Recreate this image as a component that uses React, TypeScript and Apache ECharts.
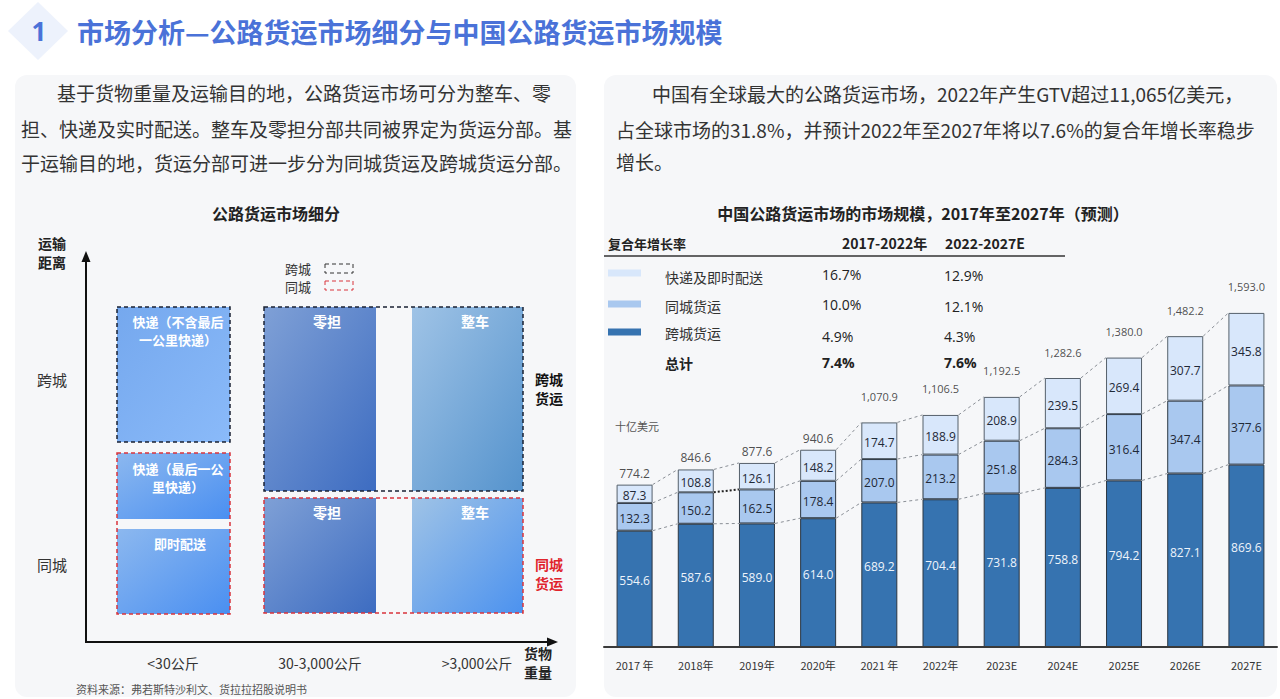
import React, { useEffect, useRef } from "react";
import * as echarts from "echarts";

// Market size, China road freight (USD bn)
const years = ["2017 年", "2018年", "2019年", "2020年", "2021 年", "2022年", "2023E", "2024E", "2025E", "2026E", "2027E"];
const crossCity = [554.6, 587.6, 589.0, 614.0, 689.2, 704.4, 731.8, 758.8, 794.2, 827.1, 869.6];
const intraCity = [132.3, 150.2, 162.5, 178.4, 207.0, 213.2, 251.8, 284.3, 316.4, 347.4, 377.6];
const express = [87.3, 108.8, 126.1, 148.2, 174.7, 188.9, 208.9, 239.5, 269.4, 307.7, 345.8];

// CAGR table
const cagrSegments = ["快递及即时配送", "同城货运", "跨城货运"];
const cagr1722 = ["16.7%", "10.0%", "4.9%"];
const cagr2227 = ["12.9%", "12.1%", "4.3%"];
const cagrTotal = ["7.4%", "7.6%"];

// Intro paragraphs
const leftParagraph = [
  "基于货物重量及运输目的地，公路货运市场可分为整车、零",
  "担、快递及实时配送。整车及零担分部共同被界定为货运分部。基",
  "于运输目的地，货运分部可进一步分为同城货运及跨城货运分部。",
];
const rightParagraph = [
  "中国有全球最大的公路货运市场，2022年产生GTV超过11,065亿美元，",
  "占全球市场的31.8%，并预计2022年至2027年将以7.6%的复合年增长率稳步",
  "增长。",
];
const weightLabels = ["<30公斤", "30-3,000公斤", ">3,000公斤"];

const CJK = '"Noto Sans CJK SC", "Noto Sans", sans-serif';
const NUM = '"Open Sans", "Noto Sans CJK SC", sans-serif';

const C_DARK = "#3673b0";
const C_MID = "#a9c8ef";
const C_LIGHT = "#d8e7fb";

const totals = crossCity.map((v, i) => Math.round((v + intraCity[i] + express[i]) * 10) / 10);
const fmt = (v: number) =>
  v.toLocaleString("en-US", { minimumFractionDigits: 1, maximumFractionDigits: 1 });

function txt(x: number, y: number, text: string, o: any = {}) {
  const style: any = {
    x,
    y,
    text,
    fill: o.fill || "#333",
    fontSize: o.size || 14,
    fontWeight: o.bold ? "bold" : "normal",
    fontFamily: o.family || CJK,
    textAlign: o.align || "left",
    align: o.align || "left",
    textVerticalAlign: "middle",
    verticalAlign: "middle",
  };
  if (o.lineHeight) style.lineHeight = o.lineHeight;
  return { type: "text", z: 10, style };
}

function grad(c0: string, c1: string, x2 = 1, y2 = 1) {
  return { type: "linear", x: 0, y: 0, x2, y2, colorStops: [{ offset: 0, color: c0 }, { offset: 1, color: c1 }] };
}

function fillRect(x: number, y: number, w: number, h: number, fill: any) {
  return { type: "rect", z: 5, shape: { x, y, width: w, height: h }, style: { fill } };
}

function dashRect(x: number, y: number, w: number, h: number, stroke: string, lw = 1.5) {
  return {
    type: "rect",
    z: 6,
    shape: { x, y, width: w, height: h },
    style: { fill: "none", stroke, lineWidth: lw, lineDash: [4, 3] },
  };
}

function buildGraphics() {
  const g: any[] = [];
  // header
  g.push({ type: "polygon", z: 1, shape: { points: [[38, 2], [68, 31], [38, 60], [8, 31]] }, style: { fill: "#edf2fc" } });
  g.push(txt(39, 31, "1", { size: 26, bold: true, fill: "#4a72d8", align: "center", family: NUM }));
  g.push(txt(77, 31, "市场分析—公路货运市场细分与中国公路货运市场规模", { size: 27, bold: true, fill: "#4a72d8" }));

  // panels
  g.push({ type: "rect", z: 0, shape: { x: 15, y: 75, width: 561, height: 622, r: 12 }, style: { fill: "#f6f7f9" } });
  g.push({ type: "rect", z: 0, shape: { x: 604, y: 75, width: 673, height: 622, r: 12 }, style: { fill: "#f6f7f9" } });

  // paragraphs
  const lx = [57, 21, 21];
  const ly = [92, 128, 162];
  leftParagraph.forEach((s, i) => g.push(txt(lx[i], ly[i], s, { size: 19, fill: "#333" })));
  const rx = [652, 616, 616];
  const ry = [93, 129, 161];
  rightParagraph.forEach((s, i) => g.push(txt(rx[i], ry[i], s, { size: 19, fill: "#333" })));

  // ---- segmentation diagram ----
  g.push(txt(276, 213, "公路货运市场细分", { size: 16, bold: true, fill: "#222", align: "center" }));
  g.push(txt(52, 252, "运输\n距离", { size: 14, bold: true, fill: "#222", align: "center", lineHeight: 19 }));
  g.push({ type: "line", z: 6, shape: { x1: 86, y1: 642, x2: 86, y2: 260 }, style: { stroke: "#111", lineWidth: 2 } });
  g.push({ type: "polygon", z: 6, shape: { points: [[86, 251], [81.5, 262], [90.5, 262]] }, style: { fill: "#111" } });
  g.push({ type: "line", z: 6, shape: { x1: 85, y1: 642, x2: 549, y2: 642 }, style: { stroke: "#111", lineWidth: 2 } });
  g.push({ type: "polygon", z: 6, shape: { points: [[558, 642], [547, 637.5], [547, 646.5]] }, style: { fill: "#111" } });
  g.push(txt(52, 379, "跨城", { size: 15, fill: "#333", align: "center" }));
  g.push(txt(52, 564, "同城", { size: 15, fill: "#333", align: "center" }));

  // legend
  g.push(txt(298, 268, "跨城", { size: 13, fill: "#333", align: "center" }));
  g.push(dashRect(325, 264, 28, 9, "#333", 1));
  g.push(txt(298, 286, "同城", { size: 13, fill: "#333", align: "center" }));
  g.push(dashRect(325, 281, 28, 9, "#d9343c", 1));

  // express column
  g.push(fillRect(117, 307, 113, 135, grad("#75a8ee", "#8abaf9")));
  g.push(dashRect(117, 307, 113, 135, "#1a2233"));
  g.push(fillRect(117, 453, 113, 66, grad("#8cb8ef", "#4a8ff1")));
  g.push(fillRect(117, 529, 113, 85, grad("#8cb8ef", "#4a8ff1")));
  g.push(dashRect(117, 453, 113, 161, "#d9343c"));
  const white = { size: 13, bold: true, fill: "#ffffff", align: "center", lineHeight: 18 };
  g.push(txt(178, 330, "快递（不含最后\n一公里快递）", white));
  g.push(txt(178, 477, "快递（最后一公\n里快递）", white));
  g.push(txt(180, 543, "即时配送", white));

  // LTL / FTL blocks
  g.push(fillRect(264, 307, 112, 184, grad("#7fa0d6", "#3d6cc1")));
  g.push(fillRect(412, 307, 111, 184, grad("#9fc3e6", "#5593cd")));
  g.push(dashRect(264, 307, 259, 184, "#1a2233"));
  g.push(fillRect(264, 498, 112, 115, grad("#7fa0d6", "#3d6cc1")));
  g.push(fillRect(412, 498, 111, 115, grad("#9fc3e6", "#4c92ef")));
  g.push(dashRect(264, 498, 259, 115, "#d9343c"));
  const white14 = { size: 14, bold: true, fill: "#ffffff", align: "center" };
  g.push(txt(327, 321, "零担", white14));
  g.push(txt(475, 321, "整车", white14));
  g.push(txt(327, 512, "零担", white14));
  g.push(txt(475, 512, "整车", white14));

  g.push(txt(549, 388, "跨城\n货运", { size: 14, bold: true, fill: "#111", align: "center", lineHeight: 19 }));
  g.push(txt(549, 573, "同城\n货运", { size: 14, bold: true, fill: "#e0242c", align: "center", lineHeight: 19 }));

  const wx = [173, 320, 477];
  weightLabels.forEach((s, i) => g.push(txt(wx[i], 663, s, { size: 14, fill: "#333", align: "center" })));
  g.push(txt(538, 662, "货物\n重量", { size: 14, bold: true, fill: "#222", align: "center", lineHeight: 19 }));
  g.push(txt(76, 689, "资料来源：弗若斯特沙利文、货拉拉招股说明书", { size: 11, fill: "#555" }));

  // ---- market size chart header & CAGR table ----
  g.push(txt(923, 213, "中国公路货运市场的市场规模，2017年至2027年（预测）", { size: 16, bold: true, fill: "#222", align: "center" }));
  g.push(txt(608, 243, "复合年增长率", { size: 13, bold: true, fill: "#222" }));
  g.push(txt(842, 243, "2017-2022年", { size: 14, bold: true, fill: "#222" }));
  g.push(txt(945, 243, "2022-2027E", { size: 14, bold: true, fill: "#222" }));
  g.push({ type: "line", z: 6, shape: { x1: 604, y1: 256, x2: 1065, y2: 256 }, style: { stroke: "#333", lineWidth: 1.5 } });

  const swatchColors = [C_LIGHT, C_MID, C_DARK];
  const swY = [273, 304, 332];
  const labY = [277, 306, 333];
  const v1Y = [274, 304, 336];
  const v2Y = [275, 306, 336];
  cagrSegments.forEach((s, i) => {
    g.push({ type: "rect", z: 6, shape: { x: 608, y: swY[i] - 3.5, width: 33, height: 7 }, style: { fill: swatchColors[i] } });
    g.push(txt(665, labY[i], s, { size: 14, fill: "#333" }));
    g.push(txt(822, v1Y[i], cagr1722[i], { size: 14, fill: "#222", family: NUM }));
    g.push(txt(944, v2Y[i], cagr2227[i], { size: 14, fill: "#222", family: NUM }));
  });
  g.push(txt(665, 363, "总计", { size: 14, bold: true, fill: "#222" }));
  g.push(txt(822, 362, cagrTotal[0], { size: 14, bold: true, fill: "#222", family: NUM }));
  g.push(txt(944, 362, cagrTotal[1], { size: 14, bold: true, fill: "#222", family: NUM }));
  g.push(txt(615, 426, "十亿美元", { size: 11, fill: "#555" }));
  return g;
}

export default function App() {
  const ref = useRef<HTMLDivElement>(null);

  useEffect(() => {
    if (!ref.current) return;
    const chart = echarts.init(ref.current, undefined, { renderer: "svg" });

    const lvl1 = crossCity;
    const lvl2 = crossCity.map((v, i) => v + intraCity[i]);
    const connectors = years.slice(0, -1).map((_, i) => [
      i, lvl1[i], lvl1[i + 1], lvl2[i], lvl2[i + 1], totals[i], totals[i + 1],
    ]);

    const barBase = { type: "bar", stack: "total", barWidth: 36, z: 3 };

    chart.setOption({
      animation: false,
      backgroundColor: "#ffffff",
      textStyle: { fontFamily: NUM },
      graphic: { elements: buildGraphics() },
      grid: { left: 604, right: 3, top: 269.5, bottom: 52 },
      xAxis: {
        type: "category",
        data: years,
        axisLine: { lineStyle: { color: "#3a3a3a", width: 2 } },
        axisTick: { show: false },
        axisLabel: { color: "#333", fontSize: 11, margin: 12, fontFamily: CJK },
        z: 4,
      },
      yAxis: { type: "value", min: 0, max: 1800, show: false },
      series: [
        {
          ...barBase,
          name: "跨城货运",
          data: crossCity,
          itemStyle: { color: C_DARK, borderColor: "#2b3642", borderWidth: 1 },
          label: {
            show: true, position: "inside", offset: [0, -8], color: "#eef4fb", fontSize: 12,
            formatter: (p: any) => p.value.toFixed(1),
          },
        },
        {
          ...barBase,
          name: "同城货运",
          data: intraCity,
          itemStyle: { color: C_MID, borderColor: "#2b3642", borderWidth: 1 },
          label: {
            show: true, position: "inside", offset: [0, 2], color: "#1f2937", fontSize: 12,
            formatter: (p: any) => p.value.toFixed(1),
          },
        },
        {
          ...barBase,
          name: "快递及即时配送",
          data: express,
          itemStyle: { color: C_LIGHT, borderColor: "#55606b", borderWidth: 1 },
          label: {
            show: true, position: "inside", offset: [0, 2], color: "#1f2937", fontSize: 12,
            formatter: (p: any) => p.value.toFixed(1),
          },
        },
        {
          type: "scatter",
          name: "总计",
          symbolSize: 1,
          itemStyle: { color: "rgba(0,0,0,0)" },
          z: 5,
          data: totals.map((t) => ({
            value: t,
            label: { distance: t >= 1000 ? 20 : 5, fontSize: t >= 1000 ? 11 : 12 },
          })),
          label: { show: true, position: "top", color: "#222", formatter: (p: any) => fmt(p.value) },
        },
        {
          type: "custom",
          name: "connectors",
          z: 4,
          silent: true,
          data: connectors,
          renderItem: (_params: any, api: any) => {
            const i = api.value(0);
            const half = 18;
            const pairs = [
              [api.value(1), api.value(2)],
              [api.value(3), api.value(4)],
              [api.value(5), api.value(6)],
            ];
            return {
              type: "group",
              children: pairs.map(([a, b], k) => {
                const p0 = api.coord([i, a]);
                const p1 = api.coord([i + 1, b]);
                const dotted = i === 1 && k === 1;
                return {
                  type: "line",
                  shape: { x1: p0[0] + half, y1: p0[1], x2: p1[0] - half, y2: p1[1] },
                  style: {
                    stroke: dotted ? "#222" : "#8a8f96",
                    lineWidth: dotted ? 2 : 1,
                    lineDash: dotted ? [2, 2] : [3, 3],
                    fill: "none",
                  },
                };
              }),
            };
          },
        },
      ],
    });

    return () => chart.dispose();
  }, []);

  return (
    <div
      ref={ref}
      style={{ position: "fixed", left: 0, top: 0, width: 1280, height: 699, background: "#fff" }}
    />
  );
}
